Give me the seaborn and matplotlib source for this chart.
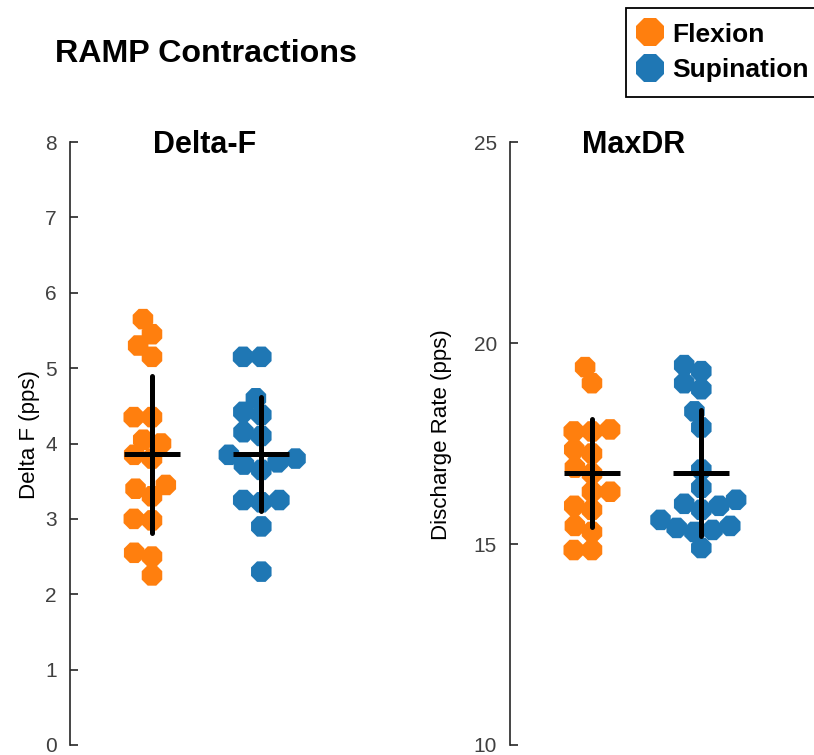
import matplotlib
matplotlib.use("Agg")
import matplotlib.pyplot as plt
from matplotlib.lines import Line2D
import numpy as np
import pandas as pd
import seaborn as sns

# ---- data -------------------------------------------------------------
tasks = ["Flexion", "Supination"]
task_colors = ["#ff7f0e", "#1f77b4"]

deltaf_flexion = [5.65, 5.45, 5.30, 5.15, 4.35, 4.35, 4.05, 4.00, 3.85,
                  3.80, 3.45, 3.40, 3.30, 3.00, 2.98, 2.55, 2.50, 2.25]
deltaf_supination = [5.15, 5.15, 4.60, 4.42, 4.38, 4.15, 4.10, 3.85, 3.80,
                     3.75, 3.72, 3.65, 3.25, 3.25, 3.22, 2.90, 2.30]

maxdr_flexion = [19.40, 19.00, 17.85, 17.80, 17.80, 17.35, 17.25, 16.90, 16.75,
                 16.30, 16.30, 15.95, 15.85, 15.45, 15.30, 14.85, 14.85]
maxdr_supination = [19.45, 19.30, 19.00, 18.85, 18.30, 17.90, 16.85, 16.40, 16.10,
                    15.85, 16.00, 15.95, 15.60, 15.45, 15.40, 15.35, 15.30, 14.90]

deltaf_ticks = [0, 1, 2, 3, 4, 5, 6, 7, 8]
maxdr_ticks = [10, 15, 20, 25]


def long_frame(flex, sup):
    return pd.DataFrame({
        "task": ["Flexion"] * len(flex) + ["Supination"] * len(sup),
        "value": list(flex) + list(sup),
    })


# ---- style ------------------------------------------------------------
sns.set_theme(style="white")
plt.rcParams["font.family"] = ["Liberation Sans", "DejaVu Sans"]
AX_COLOR = "#262626"

W, H = 814, 755
fig = plt.figure(figsize=(W / 100, H / 100), dpi=100)


def px_axes(x0, x1, y_top, y_bot):
    return fig.add_axes([x0 / W, 1 - y_bot / H, (x1 - x0) / W, (y_bot - y_top) / H])


ax_df = px_axes(70, 340, 142, 745)
ax_dr = px_axes(510, 780, 142, 745)

palette = dict(zip(tasks, task_colors))
SWARM_SIZE = 12.5   # spacing used when packing the swarm
DOT_SIZE = 16.0     # drawn marker diameter (pt)

panels = [
    (ax_df, long_frame(deltaf_flexion, deltaf_supination), "Delta-F",
     "Delta F (pps)", deltaf_ticks, -0.111, 0.50),
    (ax_dr, long_frame(maxdr_flexion, maxdr_supination), "MaxDR",
     "Discharge Rate (pps)", maxdr_ticks, -0.215, 0.458),
]

for ax, df, title, ylabel, ticks, ylab_x, title_x in panels:
    sns.swarmplot(data=df, x="task", y="value", hue="task", order=tasks,
                  hue_order=tasks, palette=palette, size=SWARM_SIZE, marker="8",
                  linewidth=0, legend=False, ax=ax, warn_thresh=1.0)
    sns.pointplot(data=df, x="task", y="value", order=tasks, estimator="mean",
                  errorbar="sd", color="black", markers="_", linestyles="none",
                  markersize=41, markeredgewidth=3.6,
                  err_kws={"linewidth": 3.6, "color": "black"}, ax=ax)

    ax.set_xlim(-0.75, 1.72)
    ax.set_ylim(ticks[0], ticks[-1])
    ax.set_yticks(ticks)
    ax.set_xticks([])
    ax.set_xlabel("")
    ax.set_ylabel(ylabel, fontsize=16, color="black")
    ax.yaxis.set_label_coords(ylab_x, 0.515)
    for side in ("top", "right", "bottom"):
        ax.spines[side].set_visible(False)
    ax.spines["left"].set_color(AX_COLOR)
    ax.spines["left"].set_linewidth(1.2)
    ax.tick_params(axis="y", direction="in", length=6, width=1.2,
                   colors=AX_COLOR, labelsize=15, labelcolor="#404040", pad=9.5,
                   left=True)
    ax.text(title_x, 0.982, title, transform=ax.transAxes, ha="center",
            va="baseline", fontsize=22, fontweight="bold", color="black")
    ax.set_facecolor("none")

# Let seaborn pack the swarms, then keep those positions and enlarge the dots
fig.canvas.draw()
for ax in (ax_df, ax_dr):
    for coll in ax.collections:
        if "draw" in vars(coll):
            del coll.draw
        coll.set_sizes([DOT_SIZE ** 2])
        coll.set_zorder(1)

fig.text(55 / W, 1 - 62 / H, "RAMP Contractions", ha="left", va="baseline",
         fontsize=23.2, fontweight="bold", color="black")

handles = [Line2D([], [], marker="8", linestyle="none", markersize=22,
                  markerfacecolor=c, markeredgewidth=0) for c in task_colors]
leg = fig.legend(handles, tasks, loc="upper left",
                 bbox_to_anchor=(626 / W, 1 - 8 / H), frameon=True,
                 fancybox=False, edgecolor="black", framealpha=1,
                 prop={"weight": "bold", "size": 19}, handlelength=0.74,
                 handletextpad=0.48, borderpad=0.55, labelspacing=0.45,
                 borderaxespad=0, labelcolor="black")
leg.get_frame().set_linewidth(1.3)

fig.savefig("out.png", dpi=100)
